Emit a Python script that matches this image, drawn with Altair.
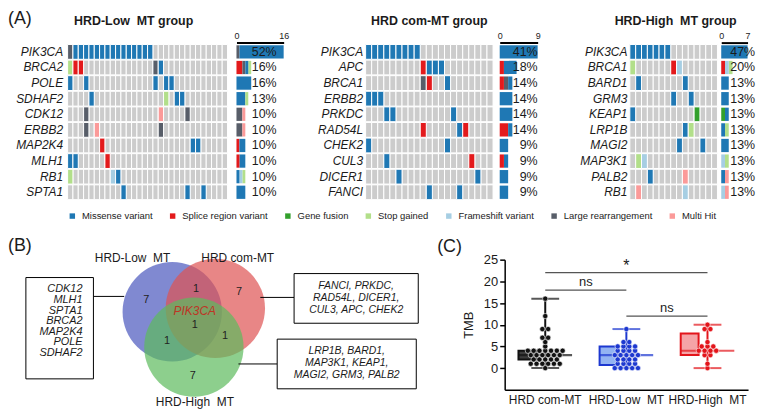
import math
import altair as alt
import pandas as pd

FONT = "Liberation Sans"
INK = "#1b1b1b"

# ---------------- (A) oncoprints ----------------
VARIANTS = ["Missense variant", "Splice region variant", "Gene fusion", "Stop gained",
            "Frameshift variant", "Large rearrangement", "Multi Hit"]
VARIANT_CODES = ["M", "S", "F", "G", "FS", "L", "H"]
VARIANT_COLORS = ["#1F78B4", "#E31A1C", "#33A02C", "#B2DF8A", "#A6CEE3", "#585E69", "#FB9A99"]
STACK_ORDER = ["S", "F", "L", "M", "FS", "G", "H"]

LOW_TITLE = "HRD-Low\u00a0 MT group"
LOW_GENES = ["PIK3CA", "BRCA2", "POLE", "SDHAF2", "CDK12", "ERBB2", "MAP2K4", "MLH1", "RB1", "SPTA1"]
LOW_PCT = ["52%", "16%", "16%", "13%", "10%", "10%", "10%", "10%", "10%", "10%"]
LOW_SAMPLES = 30
LOW_AXIS_MAX = 16
LOW_RUNS = [  # gene, first sample, last sample, variant code
    ("PIK3CA", 0, 0, "L"), ("PIK3CA", 1, 15, "M"),
    ("BRCA2", 0, 0, "G"), ("BRCA2", 1, 2, "S"), ("BRCA2", 16, 16, "L"), ("BRCA2", 17, 17, "M"),
    ("POLE", 0, 0, "M"), ("POLE", 3, 3, "M"), ("POLE", 16, 16, "M"), ("POLE", 18, 19, "M"),
    ("SDHAF2", 4, 4, "M"), ("SDHAF2", 18, 18, "G"), ("SDHAF2", 20, 21, "M"),
    ("CDK12", 3, 3, "L"), ("CDK12", 17, 17, "H"), ("CDK12", 22, 22, "L"),
    ("ERBB2", 3, 3, "L"), ("ERBB2", 5, 5, "H"), ("ERBB2", 17, 17, "L"),
    ("MAP2K4", 6, 6, "S"), ("MAP2K4", 23, 24, "M"),
    ("MLH1", 0, 1, "M"), ("MLH1", 7, 7, "S"),
    ("RB1", 0, 0, "G"), ("RB1", 8, 8, "FS"), ("RB1", 9, 9, "M"),
    ("SPTA1", 10, 10, "M"), ("SPTA1", 22, 22, "M"), ("SPTA1", 25, 25, "M"),
]

COM_TITLE = "HRD com-MT group"
COM_GENES = ["PIK3CA", "APC", "BRCA1", "ERBB2", "PRKDC", "RAD54L", "CHEK2", "CUL3", "DICER1", "FANCI"]
COM_PCT = ["41%", "18%", "14%", "14%", "14%", "14%", "9%", "9%", "9%", "9%"]
COM_SAMPLES = 21
COM_AXIS_MAX = 9
COM_RUNS = [
    ("PIK3CA", 0, 8, "M"),
    ("APC", 9, 9, "S"), ("APC", 10, 12, "M"),
    ("BRCA1", 9, 9, "L"), ("BRCA1", 10, 10, "S"), ("BRCA1", 13, 13, "M"),
    ("ERBB2", 0, 2, "M"),
    ("PRKDC", 3, 4, "M"), ("PRKDC", 14, 14, "M"),
    ("RAD54L", 9, 9, "S"), ("RAD54L", 15, 15, "M"), ("RAD54L", 16, 16, "S"),
    ("CHEK2", 0, 0, "M"), ("CHEK2", 13, 13, "M"),
    ("CUL3", 3, 3, "M"), ("CUL3", 17, 17, "S"),
    ("DICER1", 5, 5, "M"), ("DICER1", 18, 18, "M"),
    ("FANCI", 10, 10, "M"), ("FANCI", 15, 15, "M"),
]

HIGH_TITLE = "HRD-High\u00a0 MT group"
HIGH_GENES = ["PIK3CA", "BRCA1", "BARD1", "GRM3", "KEAP1", "LRP1B", "MAGI2", "MAP3K1", "PALB2", "RB1"]
HIGH_PCT = ["47%", "20%", "13%", "13%", "13%", "13%", "13%", "13%", "13%", "13%"]
HIGH_SAMPLES = 15
HIGH_AXIS_MAX = 7
HIGH_RUNS = [
    ("PIK3CA", 0, 6, "M"),
    ("BRCA1", 0, 0, "G"), ("BRCA1", 7, 7, "S"), ("BRCA1", 8, 8, "FS"),
    ("BARD1", 1, 1, "M"), ("BARD1", 9, 9, "M"),
    ("GRM3", 7, 7, "M"), ("GRM3", 10, 10, "M"),
    ("KEAP1", 0, 0, "M"), ("KEAP1", 11, 11, "F"),
    ("LRP1B", 9, 9, "M"), ("LRP1B", 10, 10, "G"),
    ("MAGI2", 8, 8, "M"), ("MAGI2", 12, 12, "M"),
    ("MAP3K1", 1, 1, "G"), ("MAP3K1", 2, 2, "FS"),
    ("PALB2", 3, 3, "M"), ("PALB2", 9, 9, "H"),
    ("RB1", 1, 1, "H"), ("RB1", 9, 9, "FS"),
]

# ---------------- (B) Venn ----------------
VENN_SETS = ["HRD-Low\u00a0 MT", "HRD com-MT", "HRD-High\u00a0 MT"]
VENN_FILLS = ["#4A57BE", "#DE5353", "#5DBB5D"]
VENN_ONLY = [7, 7, 7]
VENN_PAIRS = [((0, 1), 1), ((0, 2), 1), ((1, 2), 1)]
VENN_ALL = 1
VENN_CORE_GENE = "PIK3CA"
LOW_ONLY = ["CDK12", "MLH1", "SPTA1", "BRCA2", "MAP2K4", "POLE", "SDHAF2"]
COM_ONLY = ["FANCI", "PRKDC", "RAD54L", "DICER1", "CUL3", "APC", "CHEK2"]
HIGH_ONLY = ["LRP1B", "BARD1", "MAP3K1", "KEAP1", "MAGI2", "GRM3", "PALB2"]

# ---------------- (C) TMB box plot ----------------
TMB_GROUPS = ["HRD com-MT", "HRD-Low\u00a0 MT", "HRD-High\u00a0 MT"]
TMB_COM = [16, 12, 9, 9, 7, 7, 6, 5, 4, 4, 4, 4, 4, 4, 4, 3, 3, 3, 3, 3, 3,
           2, 2, 2, 2, 2, 1, 1, 1, 1, 1, 1, 0]
TMB_LOW = [9, 6, 6, 5, 5, 5, 5, 4, 4, 4, 4, 3, 3, 3, 3, 3, 2, 2, 2, 2,
           1, 1, 1, 1, 0, 0, 0, 0, 0]
TMB_HIGH = [10, 9, 9, 6, 5, 5, 5, 4, 4, 4, 4, 3, 3, 1, 0]
BOX_MIN = [0, 0, 0]
BOX_Q1 = [2, 0.7, 3]
BOX_MED = [3, 3, 4]
BOX_Q3 = [4, 5, 8]
BOX_MAX = [16, 9, 10]
BOX_STROKE = ["#111111", "#1D38D0", "#E3151B"]
BOX_FILL = ["#3C3C3C", "#93B3F2", "#F5A4A7"]
TMB_TICKS = [0, 5, 10, 15, 20, 25]
SIG_TESTS = [("HRD com-MT", "HRD-High\u00a0 MT", 22, "*"),
             ("HRD com-MT", "HRD-Low\u00a0 MT", 18, "ns"),
             ("HRD-Low\u00a0 MT", "HRD-High\u00a0 MT", 12, "ns")]

ROW_H = 157


def expand(runs):
    rows = []
    for gene, a, b, code in runs:
        for s in range(a, b + 1):
            rows.append({"gene": gene, "s0": s, "s1": s + 1,
                         "type": VARIANTS[VARIANT_CODES.index(code)],
                         "rank": STACK_ORDER.index(code)})
    return pd.DataFrame(rows)


def color_enc():
    return alt.Color("type:N", scale=alt.Scale(domain=VARIANTS, range=VARIANT_COLORS),
                     legend=alt.Legend(title=None, orient="bottom", direction="horizontal",
                                       symbolType="square", symbolSize=30, symbolStrokeWidth=0,
                                       labelFont=FONT, labelFontSize=9.5, labelColor=INK,
                                       labelOffset=5, columnPadding=15, offset=10, padding=0))


def oncoprint(genes, pct, runs, n, axis_max, title, title_dx, heat_w, bar_w, pct_at,
              label_pad, letter=None, letter_dx=0):
    cells = expand(runs)
    grid = pd.DataFrame({"gene": [g for g in genes for _ in range(n)],
                         "s0": [s for _ in genes for s in range(n)]})
    grid["s1"] = grid["s0"] + 1
    xsc = alt.Scale(domain=[0, n], nice=False, zero=False)
    ysc = alt.Scale(domain=genes, paddingInner=0.05, paddingOuter=0.025)
    yax = alt.Axis(title=None, ticks=False, domain=False, labelFontStyle="italic",
                   labelFontSize=12, labelColor=INK, labelPadding=label_pad, labelFont=FONT)
    bg = alt.Chart(grid).mark_rect(color="#CCCCCC", stroke="white", strokeWidth=1).encode(
        x=alt.X("s0:Q", scale=xsc, axis=None), x2="s1:Q",
        y=alt.Y("gene:N", scale=ysc, axis=yax))
    fg = alt.Chart(cells).mark_rect(stroke="white", strokeWidth=1).encode(
        x=alt.X("s0:Q", scale=xsc, axis=None), x2="s1:Q",
        y=alt.Y("gene:N", scale=ysc, axis=yax),
        color=color_enc())
    heat = alt.layer(bg, fg).properties(
        width=heat_w, height=ROW_H,
        title=alt.TitleParams(title, fontSize=12.5, fontWeight="bold", font=FONT, color=INK,
                              anchor="middle", frame="group", offset=17, dx=title_dx))

    xb = alt.Scale(domain=[0, axis_max], nice=False, zero=True)
    ybs = alt.Scale(domain=genes, paddingInner=0.15, paddingOuter=0.075)
    bar = alt.Chart(cells).mark_bar().encode(
        x=alt.X("count():Q", stack="zero", scale=xb, title=None,
                axis=alt.Axis(orient="top", values=[0, axis_max], grid=False, ticks=False,
                              domainColor="black", domainWidth=2, labelFontSize=9,
                              labelFont=FONT, labelColor=INK, labelPadding=2, offset=1.5,
                              labelFlush=False)),
        y=alt.Y("gene:N", scale=ybs, axis=None),
        color=color_enc(),
        order=alt.Order("rank:Q", sort="ascending"))
    txt = alt.Chart(pd.DataFrame({"gene": genes, "pct": pct})).mark_text(
        align="right", baseline="middle", fontSize=12.5, font=FONT, color=INK).encode(
        x=alt.datum(pct_at), y=alt.Y("gene:N", scale=ybs, axis=None), text="pct:N")
    layers = [bar, txt]
    if letter:
        layers.append(alt.Chart(pd.DataFrame({"t": [letter]})).mark_text(
            align="left", baseline="top", fontSize=18, font=FONT, color=INK).encode(
            x=alt.value(letter_dx), y=alt.value(-34.7), text="t:N"))
    bars = alt.layer(*layers).properties(width=bar_w, height=ROW_H)
    return heat, bars


def spacer(w):
    return alt.Chart(pd.DataFrame({"v": [0]})).mark_point(opacity=0).encode(
        x=alt.X("v:Q", axis=None), y=alt.Y("v:Q", axis=None)).properties(width=w, height=ROW_H)


GAP_1 = 9
h1, b1 = oncoprint(LOW_GENES, LOW_PCT, LOW_RUNS, LOW_SAMPLES, LOW_AXIS_MAX, LOW_TITLE, -14,
                   161, 47.5, 13.6, 5, letter="(A)", letter_dx=-(161 + GAP_1 + 60))
h2, b2 = oncoprint(COM_GENES, COM_PCT, COM_RUNS, COM_SAMPLES, COM_AXIS_MAX, COM_TITLE, 0,
                   128.3, 38.2, 9.0, 3)
h3, b3 = oncoprint(HIGH_GENES, HIGH_PCT, HIGH_RUNS, HIGH_SAMPLES, HIGH_AXIS_MAX, HIGH_TITLE, 2,
                   88.2, 26.5, 9.0, 3)

top = alt.hconcat(h1, spacer(GAP_1), b1, spacer(81.8), h2, spacer(5.2), b2, spacer(91.6),
                  h3, spacer(2.5), b3, spacing=0, bounds="flush")

# ---------------- Venn chart ----------------
V_X0, V_X1, V_Y0, V_Y1 = -2.56, 4.5, -1.74, 1.26
PX_PER_UNIT = 50
VENN_W, VENN_H = (V_X1 - V_X0) * PX_PER_UNIT, (V_Y1 - V_Y0) * PX_PER_UNIT
ANGLES = [155, 34, 268]
centers = [(0.5 * math.cos(math.radians(a)), 0.5 * math.sin(math.radians(a))) for a in ANGLES]

vx = alt.Scale(domain=[V_X0, V_X1], nice=False, zero=False)
vy = alt.Scale(domain=[V_Y0, V_Y1], nice=False, zero=False)


def vpos(xf="x:Q", yf="y:Q"):
    return dict(x=alt.X(xf, scale=vx, axis=None), y=alt.Y(yf, scale=vy, axis=None))


circ_df = pd.DataFrame({"set": VENN_SETS, "x": [c[0] for c in centers],
                        "y": [c[1] for c in centers], "fill": VENN_FILLS})
circles = alt.Chart(circ_df).mark_circle(size=(2 * PX_PER_UNIT) ** 2, opacity=0.7).encode(
    **vpos(), color=alt.Color("fill:N", scale=None))

reg_rows = []
for i, cnt in enumerate(VENN_ONLY):
    reg_rows.append({"x": 2.15 * centers[i][0], "y": 2.15 * centers[i][1], "t": str(cnt)})
for (i, j), cnt in VENN_PAIRS:
    k = 3 - i - j
    reg_rows.append({"x": -1.35 * centers[k][0], "y": -1.35 * centers[k][1], "t": str(cnt)})
reg_rows.append({"x": 0.0, "y": -0.05, "t": str(VENN_ALL)})
regions = alt.Chart(pd.DataFrame(reg_rows)).mark_text(
    fontSize=11, font=FONT, color="#222").encode(**vpos(), text="t:N")
core = alt.Chart(pd.DataFrame({"x": [0.0], "y": [0.22], "t": [VENN_CORE_GENE]})).mark_text(
    fontSize=12, font=FONT, fontStyle="italic", color="#C62A1E", opacity=0.9).encode(
    **vpos(), text="t:N")

set_lab = pd.DataFrame({"x": [centers[0][0] - 0.8, centers[1][0] + 0.45, centers[2][0] + 0.02],
                        "y": [centers[0][1] + 1.09, centers[1][1] + 1.02, centers[2][1] - 1.1],
                        "t": VENN_SETS})
set_labels = alt.Chart(set_lab).mark_text(fontSize=12, font=FONT, color=INK).encode(
    **vpos(), text="t:N")


def lines_of(genes, sizes):
    out, p = [], 0
    for s in sizes:
        out.append(", ".join(genes[p:p + s]) + ("," if p + s < len(genes) else ""))
        p += s
    return out


box_df = pd.DataFrame({"x": [-3.4, 2.0, 1.66], "x2": [-2.04, 4.5, 4.46],
                       "y": [0.9, 0.98, -0.34], "y2": [-1.14, -0.02, -1.34]})
gene_boxes = alt.Chart(box_df).mark_rect(fill="white", stroke="black", strokeWidth=1).encode(
    **vpos(), x2="x2:Q", y2="y2:Q")
conn_df = pd.DataFrame({"x": [-2.04, 1.32, 0.88], "x2": [-1.42, 2.0, 1.66], "y": [0.52, 0.5, -0.84]})
connectors = alt.Chart(conn_df).mark_rule(color="black", strokeWidth=1).encode(
    **vpos(), x2="x2:Q")
left_txt = pd.DataFrame({"x": [-2.26] * len(LOW_ONLY),
                         "y": [0.66 - 0.212 * i for i in range(len(LOW_ONLY))], "t": LOW_ONLY})
left_list = alt.Chart(left_txt).mark_text(align="right", fontSize=11, font=FONT,
                                          fontStyle="italic", color=INK).encode(**vpos(), text="t:N")
right_lines = lines_of(COM_ONLY, [2, 2, 3]) + lines_of(HIGH_ONLY, [2, 2, 3])
right_txt = pd.DataFrame({"x": [3.25] * 3 + [3.06] * 3,
                          "y": [0.72, 0.48, 0.24, -0.58, -0.82, -1.07], "t": right_lines})
right_list = alt.Chart(right_txt).mark_text(align="center", fontSize=10.5, font=FONT,
                                            fontStyle="italic", color=INK).encode(**vpos(), text="t:N")
letter_b = alt.Chart(pd.DataFrame({"t": ["(B)"]})).mark_text(
    align="left", baseline="top", fontSize=18, font=FONT, color=INK).encode(
    x=alt.value(-60), y=alt.value(-23), text="t:N")

venn = alt.layer(circles, regions, core, set_labels, connectors, gene_boxes, left_list,
                 right_list, letter_b).properties(width=VENN_W, height=VENN_H)

# ---------------- Box plot ----------------
bx = alt.Scale(domain=TMB_GROUPS, paddingInner=0, paddingOuter=0)
by = alt.Scale(domain=[-5, 25], nice=False, zero=False)
xax = alt.Axis(title=None, labelAngle=0, ticks=False, domainColor="black", domainWidth=1.5,
               labelFontSize=12, labelColor=INK, labelPadding=5, labelFont=FONT,
               labelOverlap=False)
yax = alt.Axis(title="TMB", values=TMB_TICKS, grid=False, domainColor="black",
               domainWidth=1.5, tickColor="black", tickWidth=1.5, tickSize=5, labelFontSize=13,
               labelColor=INK, labelPadding=2, titleFontSize=13, titleFontWeight="normal",
               titleColor=INK, titlePadding=8, labelFont=FONT, titleFont=FONT,
               labelOverlap=False)


def Y(field):
    return alt.Y(field, scale=by, axis=yax)


stats = pd.DataFrame({"group": TMB_GROUPS, "lo": BOX_MIN, "q1": BOX_Q1, "med": BOX_MED,
                      "q3": BOX_Q3, "hi": BOX_MAX, "stroke": BOX_STROKE, "fill": BOX_FILL})
X = alt.X("group:N", scale=bx, axis=xax)
whisk = alt.Chart(stats).mark_rule(strokeWidth=2).encode(
    x=X, y=Y("lo:Q"), y2="hi:Q", color=alt.Color("stroke:N", scale=None))
boxes = alt.Chart(stats).mark_bar(strokeWidth=2, width=alt.RelativeBandSize(0.66)).encode(
    x=X, y=Y("q1:Q"), y2="q3:Q",
    fill=alt.Fill("fill:N", scale=None), stroke=alt.Stroke("stroke:N", scale=None))
caps_df = pd.DataFrame({"group": TMB_GROUPS * 2, "v": BOX_MIN + BOX_MAX, "stroke": BOX_STROKE * 2})
caps = alt.Chart(caps_df).mark_tick(thickness=2, size=28).encode(
    x=X, y=Y("v:Q"), color=alt.Color("stroke:N", scale=None))
medians = alt.Chart(stats).mark_tick(thickness=2.2, size=54).encode(
    x=X, y=Y("med:Q"), color=alt.Color("stroke:N", scale=None))

pt_rows = []
for g, vals, col in zip(TMB_GROUPS, [TMB_COM, TMB_LOW, TMB_HIGH], BOX_STROKE):
    for v in sorted(set(vals)):
        k = vals.count(v)
        for i in range(k):
            pt_rows.append({"group": g, "v": v, "slot": i - (k - 1) / 2, "col": col})
XO = alt.Scale(domain=[-7, 7])
points = alt.Chart(pd.DataFrame(pt_rows)).mark_circle(
    size=28, opacity=1, stroke="white", strokeWidth=0.6).encode(
    x=X, xOffset=alt.XOffset("slot:Q", scale=XO), y=Y("v:Q"),
    color=alt.Color("col:N", scale=None))

br_rows, br_txt = [], []
for idx, (a, b, yv, lab) in enumerate(SIG_TESTS):
    br_rows += [{"id": idx, "group": a, "v": yv}, {"id": idx, "group": b, "v": yv}]
    ia, ib = TMB_GROUPS.index(a), TMB_GROUPS.index(b)
    mid = (ia + ib) / 2
    br_txt.append({"group": TMB_GROUPS[int(math.floor(mid))], "off": 7 if mid % 1 else 0,
                   "v": yv + (0.4 if lab == "*" else 1.0), "t": lab,
                   "fs": 16 if lab == "*" else 13})
brackets = alt.Chart(pd.DataFrame(br_rows)).mark_line(color="#555555", strokeWidth=1.3).encode(
    x=X, y=Y("v:Q"), detail="id:N")
br_labels = alt.Chart(pd.DataFrame(br_txt)).mark_text(
    baseline="alphabetic", font=FONT, color=INK).encode(
    x=X, xOffset=alt.XOffset("off:Q", scale=XO), y=Y("v:Q"), text="t:N",
    size=alt.Size("fs:Q", scale=None))
letter_c = alt.Chart(pd.DataFrame({"t": ["(C)"]})).mark_text(
    align="left", baseline="top", fontSize=18, font=FONT, color=INK).encode(
    x=alt.value(-68), y=alt.value(-22), text="t:N")

boxplot = alt.layer(whisk, boxes, medians, caps, points, brackets, br_labels, letter_c).properties(
    width=245, height=131)

bottom = alt.hconcat(venn, boxplot, spacing=87, bounds="flush")

chart = alt.vconcat(top, bottom, spacing=16).resolve_scale(color="independent").properties(
    padding=0).configure_view(stroke=None).configure_axis(labelFont=FONT, titleFont=FONT)

chart.save("out.html", embed_options={"renderer": "svg", "actions": False})
